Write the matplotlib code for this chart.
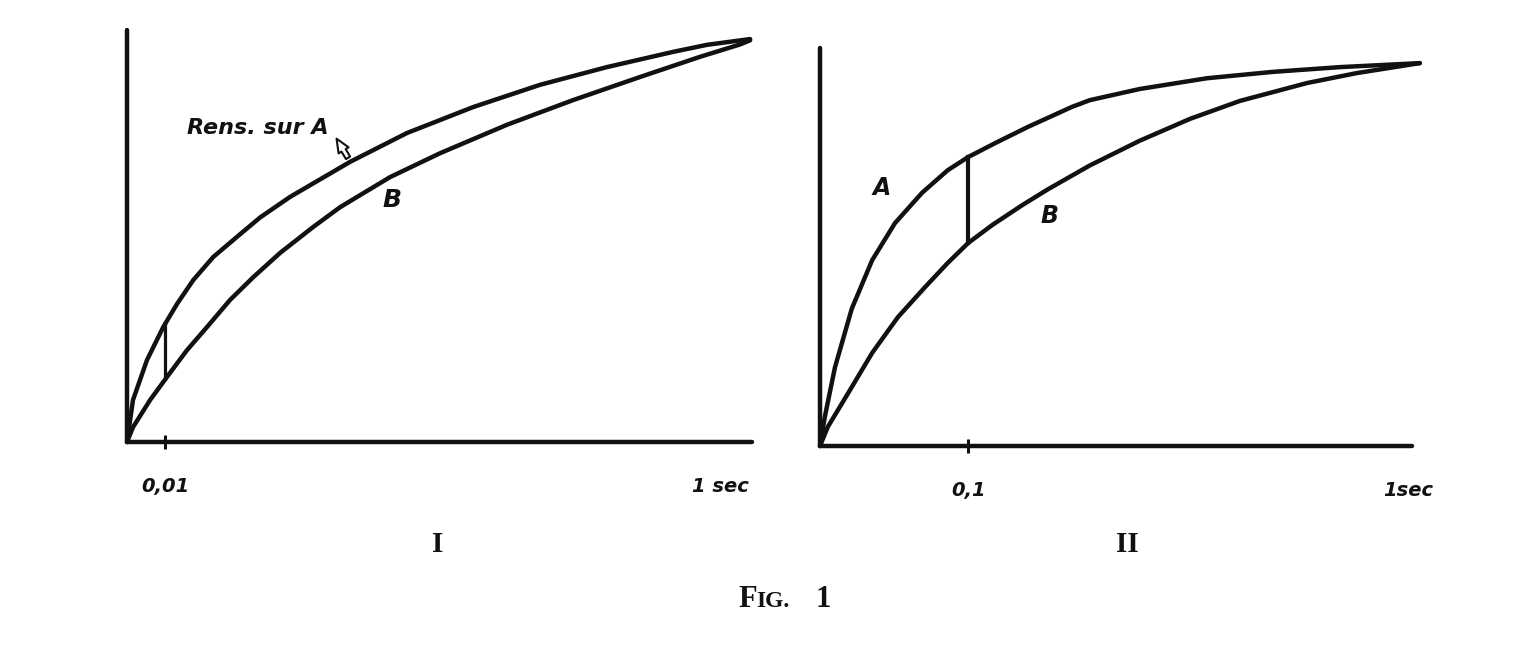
'''Fig. 1 - courbes A et B (I et II)'''

import numpy as np
import matplotlib.pyplot as plt

# panel I : position along the time axis (fraction of axis) and height
t1_a = [0, 0.0096, 0.032, 0.058, 0.080, 0.106, 0.138, 0.176, 0.213, 0.261, 0.357,
        0.448, 0.554, 0.661, 0.768, 0.874, 0.928, 0.997]
y1_a = [0, 0.102, 0.199, 0.279, 0.335, 0.393, 0.449, 0.498, 0.545, 0.595, 0.680,
        0.750, 0.813, 0.867, 0.910, 0.947, 0.964, 0.978]
t1_b = [0, 0.0096, 0.037, 0.064, 0.096, 0.128, 0.165, 0.202, 0.245, 0.298, 0.341,
        0.421, 0.501, 0.608, 0.714, 0.821, 0.917, 0.981, 0.997]
y1_b = [0, 0.036, 0.102, 0.158, 0.223, 0.279, 0.345, 0.400, 0.459, 0.522, 0.570,
        0.643, 0.701, 0.770, 0.830, 0.886, 0.935, 0.965, 0.975]

# panel II
t2_a = [0, 0.008, 0.025, 0.053, 0.087, 0.125, 0.170, 0.213, 0.247, 0.292, 0.347,
        0.420, 0.450, 0.533, 0.645, 0.755, 0.867, 1.0]
y2_a = [0, 0.073, 0.198, 0.345, 0.467, 0.560, 0.636, 0.693, 0.726, 0.761, 0.802,
        0.852, 0.869, 0.897, 0.924, 0.940, 0.952, 0.962]
t2_b = [0, 0.013, 0.047, 0.087, 0.130, 0.175, 0.213, 0.247, 0.287, 0.337, 0.380,
        0.450, 0.533, 0.617, 0.700, 0.812, 0.895, 1.0]
y2_b = [0, 0.048, 0.133, 0.234, 0.324, 0.399, 0.460, 0.510, 0.555, 0.605, 0.645,
        0.705, 0.767, 0.822, 0.867, 0.912, 0.937, 0.962]

ticks1 = [0.061, 0.95]
ticklabels1 = ['0,01', '1 sec']
ticks2 = [0.247, 0.98]
ticklabels2 = ['0,1', '1sec']

ink = '#111111'

fig = plt.figure(figsize=(15.21, 6.56), dpi=100)
ax1 = fig.add_axes([127/1521, (656-442)/656, 625/1521, 412/656])
ax2 = fig.add_axes([820/1521, (656-446)/656, 592/1521, 398/656])


def style(ax, xmax, ticks, labels):
    ax.set_xlim(0, xmax)
    ax.set_ylim(0, 1)
    for s in ['top', 'right']:
        ax.spines[s].set_visible(False)
    for s in ['left', 'bottom']:
        ax.spines[s].set_linewidth(3.2)
        ax.spines[s].set_color(ink)
        ax.spines[s].set_capstyle('round')
    ax.set_yticks([])
    ax.set_xticks(ticks, labels, fontsize=14, fontweight='bold', fontstyle='italic', color=ink)
    ax.tick_params(axis='x', direction='inout', length=10, width=2.2, pad=20, colors=ink)
    ax.xaxis.get_major_ticks()[1].tick1line.set_visible(False)


style(ax1, 1.0, ticks1, ticklabels1)
style(ax2, 0.987, ticks2, ticklabels2)

kw = dict(color=ink, lw=3.2, solid_capstyle='round', solid_joinstyle='round', clip_on=False)
ax1.plot(t1_a, y1_a, **kw)
ax1.plot(t1_b, y1_b, **kw)
ax2.plot(t2_a, y2_a, **kw)
ax2.plot(t2_b, y2_b, **kw)

# vertical connector between B and A at the marked instant
x = ticks1[0]
ax1.plot([x, x], [np.interp(x, t1_b, y1_b), np.interp(x, t1_a, y1_a)], color=ink, lw=2.3)
x = ticks2[0]
ax2.plot([x, x], [np.interp(x, t2_b, y2_b), np.interp(x, t2_a, y2_a)], color=ink, lw=3.0)

lab = dict(fontweight='bold', fontstyle='italic', color=ink)
ax1.text(0.21, 0.762, 'Rens. sur A', fontsize=16, ha='center', va='center', **lab)
ax1.annotate('', xy=(0.333, 0.742), xytext=(0.356, 0.684),
             arrowprops=dict(arrowstyle='simple,head_width=0.6,head_length=0.7,tail_width=0.25',
                             fc='white', ec=ink, lw=1.5, mutation_scale=14))
ax1.text(0.424, 0.587, 'B', fontsize=18, ha='center', va='center', **lab)
ax2.text(0.103, 0.648, 'A', fontsize=17, ha='center', va='center', **lab)
ax2.text(0.383, 0.578, 'B', fontsize=17, ha='center', va='center', **lab)

serif = dict(family='Liberation Serif', fontweight='bold', color=ink)
fig.text(438/1521, 1 - 545/656, 'I', fontsize=21, ha='center', va='center', **serif)
fig.text(1127/1521, 1 - 545/656, 'II', fontsize=21, ha='center', va='center', **serif)
fig.text(738/1521, 1 - 607/656, 'F', fontsize=22, ha='left', va='baseline', **serif)
fig.text(756/1521, 1 - 607/656, 'IG.', fontsize=17, ha='left', va='baseline', **serif)
fig.text(816/1521, 1 - 607/656, '1', fontsize=22, ha='left', va='baseline', **serif)

plt.savefig('out.png', dpi=100)
